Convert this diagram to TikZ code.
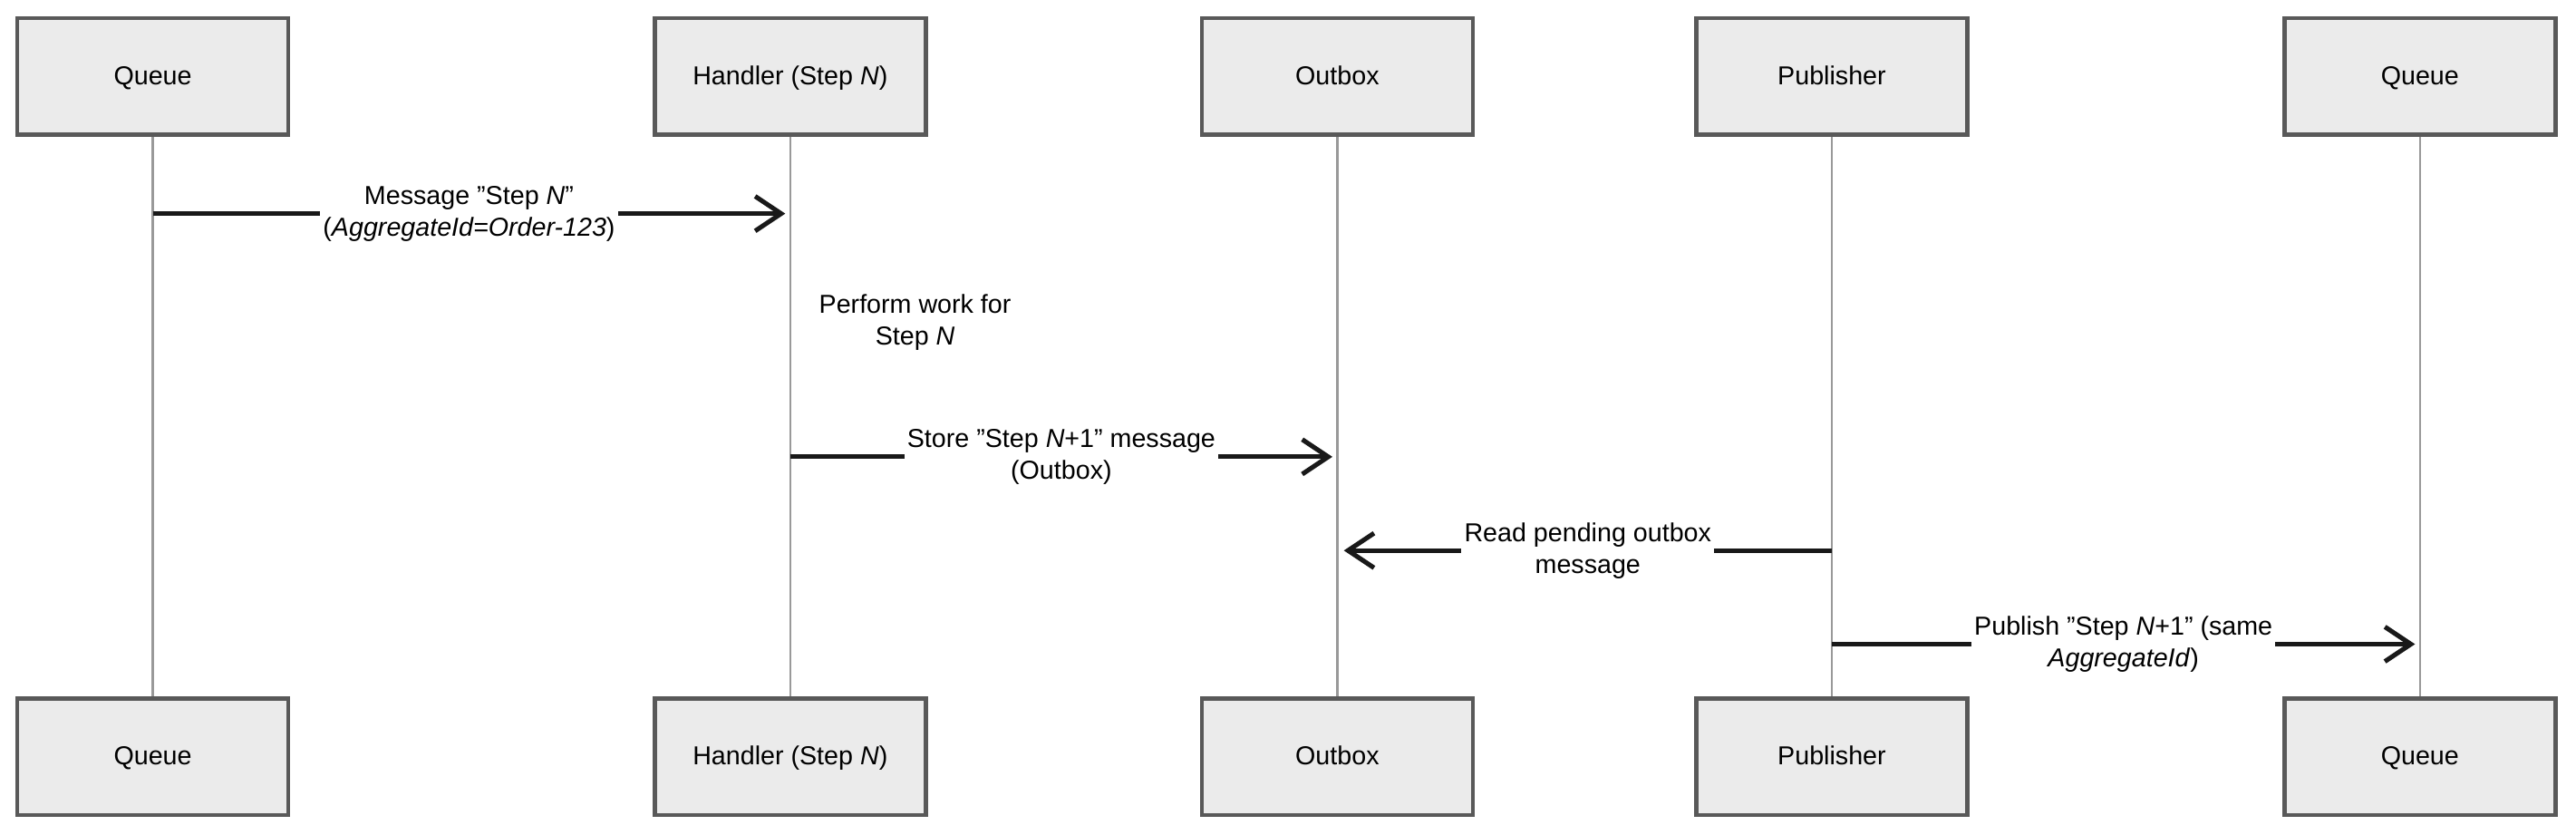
\documentclass[tikz,border=0pt]{standalone}
\usepackage{fontspec}
\setmainfont{Liberation Sans}
\usetikzlibrary{arrows.meta}
\newcommand{\dq}{\symbol{34}}
\begin{document}
\begin{tikzpicture}[x=0.02cm,y=-0.02cm,
  actor/.style={draw=black!65,line width=1.4pt,fill=black!8,minimum width=3.3cm,minimum height=1.42cm,text height=1.6ex,text depth=0.5ex,font=\fontsize{9}{11}\selectfont},
  life/.style={draw=black!40,line width=0.7pt},
  msg/.style={draw=black!90,line width=1.6pt,-{Straight Barb[length=9pt,width=12pt,line width=1.6pt]}},
  lbl/.style={fill=white,inner sep=1pt,align=center,font=\fontsize{9}{11}\selectfont}]
\useasboundingbox (0,0) rectangle (1568,507.6);
\foreach \n/\x/\t in {a/93/Queue,b/481/{Handler (Step \textit{N})},c/814/Outbox,d/1115/Publisher,e/1473/Queue}{
  \node[actor] (\n t) at (\x,46.5) {\t};
  \node[actor] (\n b) at (\x,460.5) {\t};
  \draw[life] (\n t.south) -- (\n b.north);
}
\coordinate (m1s) at (93,130); \coordinate (m1e) at (478,130);
\draw[msg] (m1s) -- (m1e) node[lbl,midway] {Message \dq Step \textit{N}\dq\\(\textit{AggregateId=Order-123})};
\node[lbl,fill=none] (note) at (557,196) {Perform work for\\Step \textit{N}};
\coordinate (m3s) at (481,278); \coordinate (m3e) at (811,278);
\draw[msg] (m3s) -- (m3e) node[lbl,midway] {Store \dq Step \textit{N}+1\dq{} message\\(Outbox)};
\coordinate (m4s) at (1115,335); \coordinate (m4e) at (818,335);
\draw[msg] (m4s) -- (m4e) node[lbl,midway] {Read pending outbox\\message};
\coordinate (m5s) at (1115,392); \coordinate (m5e) at (1470,392);
\draw[msg] (m5s) -- (m5e) node[lbl,midway] {Publish \dq Step \textit{N}+1\dq{} (same\\\textit{AggregateId})};
\end{tikzpicture}
\end{document}
